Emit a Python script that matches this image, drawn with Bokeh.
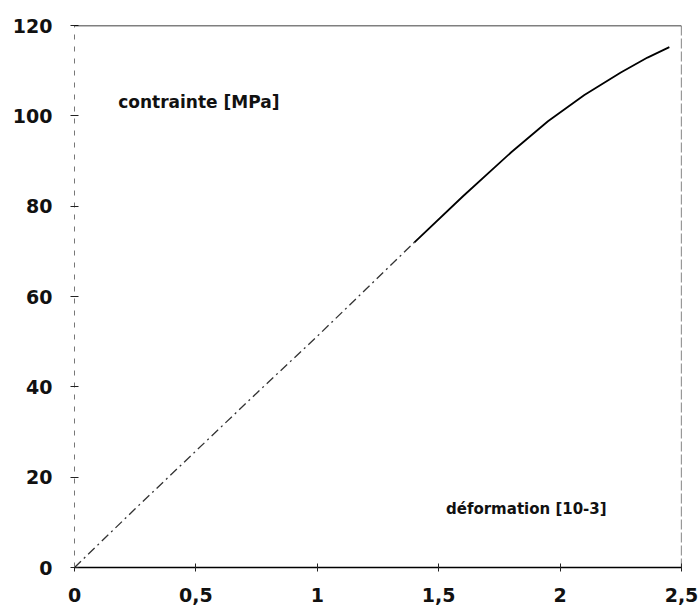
from bokeh.plotting import figure
from bokeh.models import Range1d, FixedTicker, Span, Label
from bokeh.embed import file_html
from bokeh.resources import INLINE

# strain [10-3] and stress [MPa]
deformation = [0.0, 0.25, 0.5, 0.75, 1.0, 1.2, 1.4, 1.6, 1.8, 1.95, 2.1, 2.25, 2.36, 2.45]
contrainte = [0.0, 13.0, 25.8, 38.6, 51.2, 61.6, 72.0, 82.2, 92.0, 98.8, 104.6, 109.6, 112.9, 115.2]

x_ticks = [0, 0.5, 1, 1.5, 2, 2.5]
x_tick_labels = ["0", "0,5", "1", "1,5", "2", "2,5"]
y_ticks = [0, 20, 40, 60, 80, 100, 120]

FONT = "DejaVu Sans"

p = figure(width=700, height=613, output_backend="svg", toolbar_location=None,
           x_range=Range1d(0, 2.5), y_range=Range1d(0, 120),
           min_border_left=74, min_border_right=19, min_border_top=25, min_border_bottom=46)
p.background_fill_color = "white"
p.border_fill_color = "white"
p.outline_line_color = None
p.grid.visible = False

for ax in (p.xaxis[0], p.yaxis[0]):
    ax.major_label_text_font = FONT
    ax.major_label_text_font_size = "19px"
    ax.major_label_text_font_style = "bold"
    ax.major_label_text_color = "#111111"
    ax.major_tick_in = 4
    ax.major_tick_out = 4
    ax.minor_tick_line_color = None
    ax.major_tick_line_color = "#222222"

p.xaxis.ticker = FixedTicker(ticks=x_ticks)
p.xaxis.major_label_overrides = {t: l for t, l in zip(x_ticks, x_tick_labels)}
p.xaxis.axis_line_color = "black"
p.xaxis.axis_line_width = 1.6
p.xaxis.major_label_standoff = 16

p.yaxis.ticker = FixedTicker(ticks=y_ticks)
p.yaxis.axis_line_color = "#777777"
p.yaxis.axis_line_dash = "5 7"
p.yaxis.axis_line_width = 1
p.yaxis.major_label_standoff = 18

# top and right frame lines
p.add_layout(Span(location=120, dimension="width", line_color="black", line_width=1.6))
p.add_layout(Span(location=2.5, dimension="height", line_color="#333333", line_width=1.2,
                  line_dash="10 3"))

# curve: faint broken lower part, solid upper part
k = 6
p.line(deformation[:k + 1], contrainte[:k + 1], line_color="#333333", line_width=1.3,
       line_dash="9 4 2 4")
p.line(deformation[k:], contrainte[k:], line_color="black", line_width=1.8,
       line_join="round")

p.add_layout(Label(x=0.18, y=103, text="contrainte [MPa]", text_font=FONT,
                   text_font_size="17px", text_font_style="bold", text_color="#111111",
                   text_baseline="middle"))
p.add_layout(Label(x=1.53, y=13, text="déformation [10-3]", text_font=FONT,
                   text_font_size="15px", text_font_style="bold", text_color="#111111",
                   text_baseline="middle"))

open("out.html", "w").write(file_html(p, INLINE))
